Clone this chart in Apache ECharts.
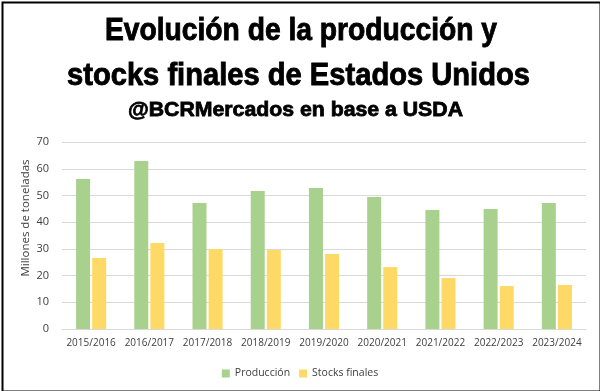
<!DOCTYPE html>
<html><head><meta charset="utf-8">
<script src="https://cdn.jsdelivr.net/npm/echarts@6/dist/echarts.min.js"></script>
<style>html,body{margin:0;padding:0;background:#fff}#c{width:600px;height:391px}</style>
</head><body><div id="c"></div>
<script>
const categories = ['2015/2016','2016/2017','2017/2018','2018/2019','2019/2020','2020/2021','2021/2022','2022/2023','2023/2024'];
const produccion = [56.2, 63.0, 47.2, 51.7, 52.9, 49.5, 44.6, 45.0, 47.2];
const stocks = [26.6, 32.2, 30.0, 29.6, 28.1, 23.2, 19.1, 16.1, 16.5];
const titleLines = ['Evolución de la producción y', 'stocks finales de Estados Unidos', '@BCRMercados en base a USDA'];
const yAxisName = 'Millones de toneladas';

// title layout (style): font size, target width, center x, cap-center y
const titleLayout = [
  {size:32, width:392, cx:301, cy:31.5, stroke:0.9},
  {size:32, width:463, cx:298.5, cy:76, stroke:0.9},
  {size:21, width:335, cx:295.5, cy:110, stroke:0.8}
];
const fam = '"Liberation Sans", Arial, sans-serif';
const ctx = document.createElement('canvas').getContext('2d');
const titleGraphics = titleLines.map((t, i) => {
  const L = titleLayout[i];
  ctx.font = 'bold ' + L.size + 'px ' + fam;
  const w = ctx.measureText(t).width;
  return {type:'text', x:L.cx, y:L.cy, scaleX:L.width / w, scaleY:1,
    style:{text:t, fontFamily:fam, fontWeight:'bold', fontSize:L.size, fill:'#000',
      stroke:'#000', lineWidth:L.stroke, align:'center', verticalAlign:'middle'}};
});

const chart = echarts.init(document.getElementById('c'), null, {renderer:'canvas'});
chart.setOption({
  animation:false,
  backgroundColor:'#fff',
  graphic:[
    {type:'rect', left:0, top:0, shape:{width:598, height:389}, style:{fill:'none', stroke:'#000', lineWidth:2}, z:100},
    {type:'text', x:25.5, y:218, rotation:Math.PI/2,
      style:{text:yAxisName, fontFamily:'"Open Sans", sans-serif', fontSize:11.5, fill:'#404040', align:'center', verticalAlign:'middle'}}
  ].concat(titleGraphics),
  legend:{bottom:7, left:'center', itemWidth:8, itemHeight:8, itemGap:9, icon:'rect',
    textStyle:{fontFamily:'"Open Sans", sans-serif', fontSize:10.5, color:'#404040'},
    data:['Producción','Stocks finales']},
  grid:{left:62, right:14, top:142.3, bottom:62, containLabel:false},
  xAxis:{type:'category', data:categories,
    axisLine:{lineStyle:{color:'#D9D9D9', width:1}}, axisTick:{show:false},
    axisLabel:{fontFamily:'"Open Sans", sans-serif', fontSize:10, color:'#404040', margin:9, interval:0}},
  yAxis:{type:'value', min:0, max:70, interval:10,
    axisLine:{show:false}, axisTick:{show:false},
    splitLine:{lineStyle:{color:'#D9D9D9', width:1}},
    axisLabel:{fontFamily:'"Open Sans", sans-serif', fontSize:11, color:'#404040', margin:13}},
  series:[
    {name:'Producción', type:'bar', data:produccion, barWidth:14, barGap:'15%', itemStyle:{color:'#A9D18E'}},
    {name:'Stocks finales', type:'bar', data:stocks, barWidth:14, barGap:'15%', itemStyle:{color:'#FFD966'}}
  ]
});
</script></body></html>
